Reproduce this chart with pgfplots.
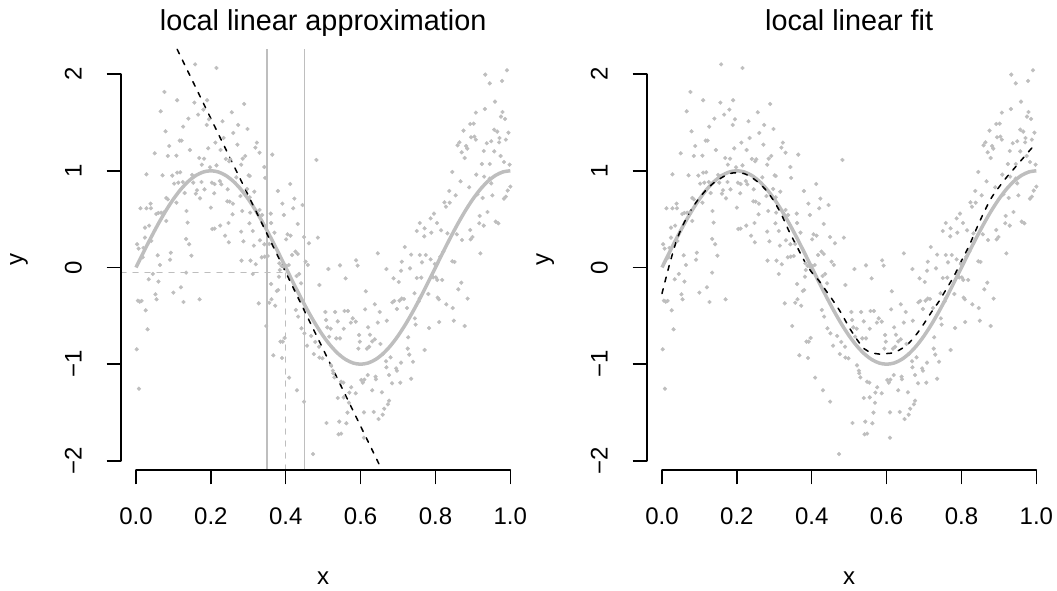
\documentclass[border=0pt]{standalone}
\usepackage{pgfplots}
\pgfplotsset{compat=1.18}
\usepackage{pgfplotstable}
\usepackage{fontspec}
\setmainfont{Liberation Sans}
\definecolor{rgrey}{RGB}{190,190,190}
\newcommand{\ticklab}{\fontsize{24}{28}\selectfont}
\newcommand{\titlefont}{\fontsize{28.8}{34}\selectfont}

\pgfplotstableread{
x y
0.158 2.100
0.215 2.063
0.076 1.815
0.110 1.729
0.156 1.705
0.190 1.729
0.289 1.691
0.066 1.615
0.166 1.581
0.180 1.632
0.256 1.605
0.140 1.539
0.195 1.532
0.231 1.512
0.273 1.474
0.126 1.456
0.189 1.474
0.298 1.432
0.079 1.408
0.260 1.391
0.117 1.312
0.122 1.312
0.234 1.339
0.212 1.291
0.089 1.256
0.271 1.270
0.323 1.291
0.050 1.181
0.085 1.153
0.108 1.156
0.144 1.215
0.193 1.232
0.226 1.215
0.319 1.239
0.330 1.187
0.364 1.167
0.169 1.132
0.182 1.125
0.240 1.122
0.252 1.119
0.292 1.153
0.285 1.125
0.249 1.098
0.281 1.063
0.176 1.063
0.343 1.039
0.028 0.963
0.071 0.953
0.097 0.950
0.110 0.981
0.118 0.984
0.150 0.957
0.198 1.036
0.215 1.056
0.301 0.953
0.304 0.946
0.268 0.932
0.345 0.926
0.102 0.867
0.113 0.877
0.125 0.884
0.153 0.877
0.175 0.884
0.203 0.877
0.210 0.863
0.224 0.894
0.228 0.860
0.163 0.798
0.160 0.763
0.130 0.770
0.183 0.808
0.209 0.767
0.245 0.808
0.297 0.812
0.316 0.784
0.412 0.863
0.081 0.719
0.085 0.705
0.108 0.670
0.171 0.715
0.244 0.684
0.250 0.681
0.259 0.660
0.279 0.739
0.304 0.726
0.379 0.791
0.423 0.712
0.391 0.660
0.445 0.646
0.012 0.612
0.028 0.612
0.040 0.612
0.039 0.660
0.054 0.553
0.060 0.564
0.067 0.567
0.075 0.570
0.135 0.584
0.200 0.619
0.258 0.550
0.284 0.584
0.305 0.567
0.330 0.595
0.337 0.543
0.360 0.557
0.395 0.543
0.420 0.612
0.432 0.450
0.035 0.433
0.024 0.412
0.081 0.481
0.138 0.464
0.204 0.398
0.210 0.402
0.225 0.433
0.247 0.460
0.238 0.329
0.281 0.371
0.303 0.457
0.312 0.377
0.361 0.460
0.370 0.360
0.405 0.343
0.413 0.329
0.003 0.240
0.007 0.195
0.020 0.202
0.041 0.274
0.024 0.309
0.134 0.295
0.142 0.240
0.248 0.260
0.287 0.271
0.331 0.281
0.315 0.226
0.343 0.240
0.356 0.243
0.401 0.291
0.002 -0.846
0.008 -1.253
0.031 -0.639
0.026 -0.443
0.010 -0.353
0.005 -0.343
0.015 -0.346
0.034 -0.122
0.045 -0.067
0.058 0.126
0.064 0.026
0.060 -0.146
0.052 -0.277
0.055 -0.329
0.093 0.153
0.100 -0.260
0.120 -0.205
0.127 -0.357
0.134 -0.053
0.148 0.122
0.170 -0.329
0.282 0.071
0.306 0.071
0.312 -0.067
0.320 0.033
0.328 -0.371
0.336 0.105
0.344 0.112
0.352 0.119
0.356 -0.364
0.361 -0.171
0.362 -0.329
0.372 -0.395
0.376 -0.243
0.380 -0.233
0.382 -0.095
0.384 -0.026
0.383 0.043
0.389 0.016
0.395 0.009
0.401 0.016
0.408 0.026
0.417 0.129
0.426 0.164
0.432 0.140
0.429 -0.088
0.436 -0.067
0.441 -0.164
0.427 -0.439
0.433 -0.508
0.442 -0.629
0.430 -1.270
0.409 -1.139
0.348 -0.605
0.386 -0.767
0.392 -0.767
0.397 -0.729
0.367 -0.908
0.390 -0.936
0.018 0.105
0.091 0.081
0.933 1.994
0.991 2.039
0.945 1.904
0.978 1.929
0.959 1.715
0.932 1.639
0.908 1.601
0.979 1.608
0.975 1.560
0.986 1.536
0.893 1.484
0.902 1.487
0.875 1.415
0.957 1.425
0.965 1.405
0.995 1.394
0.864 1.294
0.859 1.263
0.882 1.256
0.885 1.229
0.870 1.191
0.878 1.132
0.895 1.346
0.904 1.353
0.908 1.322
0.937 1.284
0.949 1.305
0.971 1.339
0.988 1.322
0.970 1.294
0.957 1.201
0.974 1.153
0.929 1.205
0.924 1.070
0.945 1.070
0.983 1.091
0.998 1.063
0.482 1.112
0.845 0.988
0.867 0.891
0.909 0.960
0.930 0.939
0.945 0.919
0.949 0.870
0.890 0.829
0.912 0.757
0.926 0.719
0.952 0.746
0.983 0.712
0.988 0.732
0.993 0.795
1.000 0.836
0.837 0.791
0.854 0.746
0.824 0.674
0.838 0.670
0.828 0.629
0.796 0.557
0.787 0.508
0.758 0.460
0.771 0.405
0.789 0.360
0.750 0.377
0.770 0.322
0.815 0.384
0.804 0.460
0.832 0.353
0.857 0.343
0.871 0.284
0.894 0.291
0.899 0.315
0.893 0.388
0.918 0.533
0.917 0.457
0.929 0.433
0.939 0.574
0.961 0.474
0.968 0.457
0.486 0.309
0.449 0.315
0.462 0.250
0.718 0.212
0.453 0.060
0.459 0.026
0.450 -0.681
0.457 -0.808
0.449 -1.387
0.473 -1.929
0.490 -0.181
0.514 -0.016
0.545 0.022
0.560 -0.112
0.588 0.074
0.592 0.019
0.614 -0.246
0.646 0.146
0.669 -0.016
0.688 -0.112
0.708 -0.033
0.710 0.060
0.732 -0.009
0.735 0.133
0.758 0.129
0.774 0.129
0.764 0.053
0.750 -0.109
0.762 -0.105
0.787 0.084
0.798 0.036
0.813 0.112
0.794 -0.102
0.801 -0.102
0.805 -0.129
0.818 -0.129
0.821 0.164
0.845 0.064
0.851 0.057
0.920 0.146
0.869 -0.157
0.861 -0.226
0.886 -0.322
0.806 -0.312
0.809 -0.329
0.781 -0.274
0.829 -0.381
0.846 -0.419
0.878 -0.605
0.849 -0.550
0.810 -0.564
0.783 -0.626
0.771 -0.853
0.702 -0.150
0.690 -0.346
0.685 -0.360
0.697 -0.429
0.710 -0.322
0.716 -0.326
0.704 -0.343
0.724 -0.419
0.744 -0.267
0.758 -0.319
0.755 -0.353
0.638 -0.381
0.612 -0.433
0.651 -0.460
0.670 -0.550
0.646 -0.570
0.620 -0.619
0.587 -0.560
0.579 -0.526
0.574 -0.570
0.557 -0.450
0.566 -0.450
0.555 -0.633
0.539 -0.557
0.532 -0.460
0.506 -0.460
0.508 -0.543
0.511 -0.619
0.520 -0.633
0.516 -0.715
0.535 -0.733
0.545 -0.733
0.596 -0.698
0.625 -0.695
0.638 -0.743
0.631 -0.764
0.623 -0.819
0.598 -0.767
0.594 -0.839
0.617 -0.839
0.653 -0.791
0.659 -0.895
0.668 -0.970
0.680 -0.929
0.695 -1.043
0.697 -1.067
0.726 -0.839
0.730 -0.901
0.727 -0.722
0.740 -0.974
0.745 -0.526
0.747 -0.591
0.468 -0.708
0.479 -0.770
0.489 -0.819
0.475 -0.895
0.490 -0.932
0.498 -0.939
0.521 -1.012
0.526 -1.067
0.527 -1.094
0.530 -1.136
0.548 -1.181
0.554 -1.191
0.575 -1.239
0.570 -1.294
0.587 -1.301
0.569 -1.398
0.555 -1.343
0.539 -1.350
0.565 -1.501
0.543 -1.594
0.562 -1.611
0.509 -1.608
0.541 -1.725
0.548 -1.718
0.602 -1.163
0.606 -1.191
0.610 -1.160
0.619 -1.112
0.640 -1.129
0.641 -1.156
0.657 -1.291
0.676 -1.377
0.673 -1.415
0.659 -1.522
0.663 -1.460
0.648 -1.567
0.635 -1.494
0.609 -1.498
0.609 -1.760
0.631 -1.270
0.684 -1.198
0.706 -1.191
0.735 -1.150
0.676 -1.112
0.669 -1.032
0.708 -0.984
}\pts

\pgfplotstableread{
x y
0.00 0.0000
0.02 0.1564
0.04 0.3090
0.06 0.4540
0.08 0.5878
0.10 0.7071
0.12 0.8090
0.14 0.8910
0.16 0.9511
0.18 0.9877
0.20 1.0000
0.22 0.9877
0.24 0.9511
0.26 0.8910
0.28 0.8090
0.30 0.7071
0.32 0.5878
0.34 0.4540
0.36 0.3090
0.38 0.1564
0.40 0.0000
0.42 -0.1564
0.44 -0.3090
0.46 -0.4540
0.48 -0.5878
0.50 -0.7071
0.52 -0.8090
0.54 -0.8910
0.56 -0.9511
0.58 -0.9877
0.60 -1.0000
0.62 -0.9877
0.64 -0.9511
0.66 -0.8910
0.68 -0.8090
0.70 -0.7071
0.72 -0.5878
0.74 -0.4540
0.76 -0.3090
0.78 -0.1564
0.80 0.0000
0.82 0.1564
0.84 0.3090
0.86 0.4540
0.88 0.5878
0.90 0.7071
0.92 0.8090
0.94 0.8910
0.96 0.9511
0.98 0.9877
1.00 1.0000
}\truef

\pgfplotstableread{
x y
0.00 -0.27
0.02 0.03
0.04 0.29
0.06 0.47
0.08 0.61
0.10 0.72
0.12 0.81
0.14 0.88
0.16 0.93
0.18 0.97
0.20 0.98
0.22 0.97
0.24 0.93
0.26 0.87
0.28 0.79
0.30 0.68
0.32 0.54
0.34 0.37
0.36 0.22
0.38 0.07
0.40 -0.05
0.42 -0.14
0.44 -0.25
0.46 -0.36
0.48 -0.48
0.50 -0.62
0.52 -0.74
0.54 -0.84
0.56 -0.88
0.58 -0.895
0.60 -0.89
0.62 -0.88
0.64 -0.84
0.66 -0.78
0.68 -0.69
0.70 -0.58
0.72 -0.46
0.74 -0.35
0.76 -0.22
0.78 -0.09
0.80 0.07
0.82 0.22
0.84 0.40
0.86 0.57
0.88 0.72
0.90 0.83
0.92 0.93
0.94 1.02
0.96 1.11
0.98 1.20
1.00 1.29
}\fitf

\pgfplotsset{rpanel/.style={
  scale only axis, width=404.3pt, height=420.7pt,
  xmin=-0.04, xmax=1.04, ymin=-2.094, ymax=2.256,
  axis line style={draw=none},
  xtick={0,0.2,0.4,0.6,0.8,1}, ytick={-2,-1,0,1,2},
  xticklabels={,,,,,}, yticklabels={,,,,},
  tick align=outside, tick pos=left, major tick length=14.4pt,
  tick style={black, line width=1.5pt},
  clip=false, anchor=south west}}

\begin{document}
\begin{tikzpicture}
\path[use as bounding box] (0,0) rectangle (1057pt,590pt);
% left panel
\begin{axis}[rpanel, at={(121pt,120pt)}]
\addplot[only marks, mark=*, mark size=1.9pt, color=rgrey, mark options={draw=none, fill=rgrey}] table {\pts};
\addplot[rgrey, line width=3.5pt, smooth, line join=round] table {\truef};
\addplot[rgrey, line width=1.5pt] coordinates {(0.35,-2.094) (0.35,2.256)};
\addplot[rgrey, line width=1.5pt] coordinates {(0.45,-2.094) (0.45,2.256)};
\addplot[rgrey, line width=1.5pt, dash pattern=on 5pt off 7pt, line cap=round] coordinates {(-0.04,-0.05) (0.4,-0.05)};
\addplot[rgrey, line width=1.5pt, dash pattern=on 5pt off 7pt, line cap=round] coordinates {(0.4,-2.094) (0.4,-0.05)};
\addplot[black, line width=1.5pt, dash pattern=on 5pt off 7pt, line cap=round] coordinates {(0.110,2.256) (0.657,-2.094)};
\draw[black, line width=1.5pt, line cap=round] (axis cs:0,-2.094) -- (axis cs:1,-2.094);
\draw[black, line width=1.5pt, line cap=round] (axis cs:-0.04,-2) -- (axis cs:-0.04,2);
\node[anchor=base, font=\ticklab] at ([yshift=-54.3pt]axis cs:0,-2.094) {0.0};
\node[anchor=base, font=\ticklab] at ([yshift=-54.3pt]axis cs:0.2,-2.094) {0.2};
\node[anchor=base, font=\ticklab] at ([yshift=-54.3pt]axis cs:0.4,-2.094) {0.4};
\node[anchor=base, font=\ticklab] at ([yshift=-54.3pt]axis cs:0.6,-2.094) {0.6};
\node[anchor=base, font=\ticklab] at ([yshift=-54.3pt]axis cs:0.8,-2.094) {0.8};
\node[anchor=base, font=\ticklab] at ([yshift=-54.3pt]axis cs:1,-2.094) {1.0};
\node[anchor=base, rotate=90, font=\ticklab] at ([xshift=-39.3pt]axis cs:-0.04,-2) {−2};
\node[anchor=base, rotate=90, font=\ticklab] at ([xshift=-39.3pt]axis cs:-0.04,-1) {−1};
\node[anchor=base, rotate=90, font=\ticklab] at ([xshift=-39.3pt]axis cs:-0.04,0) {0};
\node[anchor=base, rotate=90, font=\ticklab] at ([xshift=-39.3pt]axis cs:-0.04,1) {1};
\node[anchor=base, rotate=90, font=\ticklab] at ([xshift=-39.3pt]axis cs:-0.04,2) {2};
\node[anchor=base, font=\ticklab] at ([yshift=-114.3pt]axis cs:0.5,-2.094) {x};
\node[anchor=base, rotate=90, font=\ticklab] at ([xshift=-98pt]axis cs:-0.04,0.081) {y};
\node[anchor=base, font=\titlefont] at ([yshift=18.6pt]axis cs:0.5,2.256) {local linear approximation};
\end{axis}
% right panel
\begin{axis}[rpanel, at={(647pt,120pt)}]
\addplot[only marks, mark=*, mark size=1.9pt, color=rgrey, mark options={draw=none, fill=rgrey}] table {\pts};
\addplot[rgrey, line width=3.5pt, smooth, line join=round] table {\truef};
\addplot[black, line width=1.5pt, dash pattern=on 5pt off 7pt, line cap=round, smooth] table {\fitf};
\draw[black, line width=1.5pt, line cap=round] (axis cs:0,-2.094) -- (axis cs:1,-2.094);
\draw[black, line width=1.5pt, line cap=round] (axis cs:-0.04,-2) -- (axis cs:-0.04,2);
\node[anchor=base, font=\ticklab] at ([yshift=-54.3pt]axis cs:0,-2.094) {0.0};
\node[anchor=base, font=\ticklab] at ([yshift=-54.3pt]axis cs:0.2,-2.094) {0.2};
\node[anchor=base, font=\ticklab] at ([yshift=-54.3pt]axis cs:0.4,-2.094) {0.4};
\node[anchor=base, font=\ticklab] at ([yshift=-54.3pt]axis cs:0.6,-2.094) {0.6};
\node[anchor=base, font=\ticklab] at ([yshift=-54.3pt]axis cs:0.8,-2.094) {0.8};
\node[anchor=base, font=\ticklab] at ([yshift=-54.3pt]axis cs:1,-2.094) {1.0};
\node[anchor=base, rotate=90, font=\ticklab] at ([xshift=-39.3pt]axis cs:-0.04,-2) {−2};
\node[anchor=base, rotate=90, font=\ticklab] at ([xshift=-39.3pt]axis cs:-0.04,-1) {−1};
\node[anchor=base, rotate=90, font=\ticklab] at ([xshift=-39.3pt]axis cs:-0.04,0) {0};
\node[anchor=base, rotate=90, font=\ticklab] at ([xshift=-39.3pt]axis cs:-0.04,1) {1};
\node[anchor=base, rotate=90, font=\ticklab] at ([xshift=-39.3pt]axis cs:-0.04,2) {2};
\node[anchor=base, font=\ticklab] at ([yshift=-114.3pt]axis cs:0.5,-2.094) {x};
\node[anchor=base, rotate=90, font=\ticklab] at ([xshift=-98pt]axis cs:-0.04,0.081) {y};
\node[anchor=base, font=\titlefont] at ([yshift=18.6pt]axis cs:0.5,2.256) {local linear fit};
\end{axis}
\end{tikzpicture}
\end{document}
